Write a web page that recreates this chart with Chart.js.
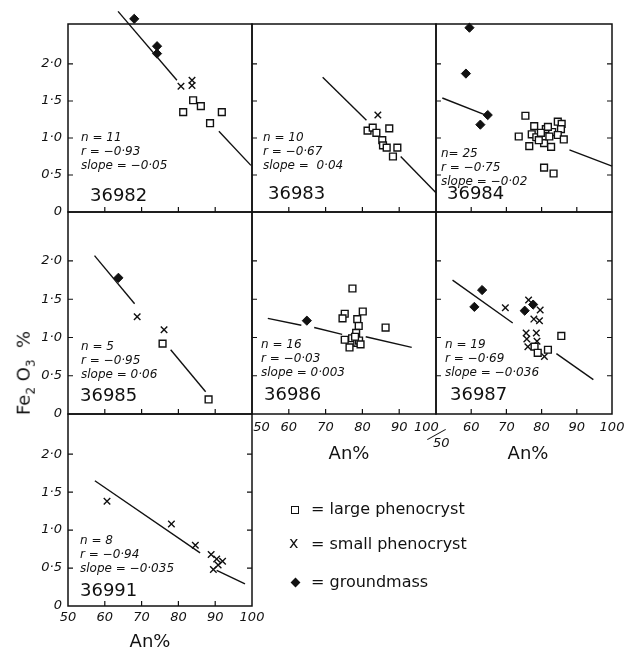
<!DOCTYPE html>
<html>
<head>
<meta charset="utf-8">
<script src="https://cdn.jsdelivr.net/npm/chart.js@4.4.0/dist/chart.umd.min.js"></script>
<style>
  body { margin: 0; background: #fff; }
  #wrap { position: relative; width: 624px; height: 648px; overflow: hidden; color: #111; }
  #wrap canvas { position: absolute; left: 0; top: 0; }
  .stat { position: absolute; font: italic 12px 'DejaVu Sans'; line-height: 14px; white-space: pre; }
  .sid { position: absolute; font: 18px 'DejaVu Sans'; line-height: 22px; }
  .ax { position: absolute; font: 18px 'DejaVu Sans'; white-space: pre; transform: translate(-50%, -50%); }
  .leg { position: absolute; font: 16px 'DejaVu Sans'; line-height: 20px; white-space: pre; }
  .sym { position: absolute; }
</style>
</head>
<body>
<div id="wrap"></div>
<script>
// Ejes comunes
const xTicks = [50, 60, 70, 80, 90, 100];
const yTicks = [0, 0.5, 1.0, 1.5, 2.0];
const rowMax = [2.54, 2.64, 2.53];

// 36982
const p82Large = [[81.3, 1.35], [84.0, 1.51], [86.1, 1.43], [88.6, 1.20], [91.8, 1.35]];
const p82Small = [[80.7, 1.70], [83.7, 1.78], [83.7, 1.71]];
const p82Ground = [[68.0, 2.61], [74.2, 2.24], [74.2, 2.14]];
const p82Fit = [[63.6, 2.71, 79.6, 1.78], [91.0, 1.09, 99.7, 0.63]];

// 36983
const p83Large = [[81.4, 1.10], [82.8, 1.14], [83.8, 1.07], [87.3, 1.13], [85.4, 0.97],
                  [85.6, 0.90], [86.6, 0.87], [89.5, 0.87], [88.3, 0.75]];
const p83Small = [[84.2, 1.31]];
const p83Ground = [];
const p83Fit = [[69.2, 1.82, 81.1, 1.24], [90.4, 0.75, 100, 0.26]];

// 36984
const p84Large = [[75.4, 1.30], [73.5, 1.02], [77.9, 1.16], [77.2, 1.05], [78.5, 1.01], [76.5, 0.89],
                  [81.2, 1.12], [80.7, 0.93], [82.7, 0.88], [83.0, 1.08], [82.2, 1.02], [84.6, 1.22],
                  [85.7, 1.19], [85.5, 1.12], [84.6, 1.04], [86.3, 0.98], [80.7, 0.60], [83.4, 0.52],
                  [79.8, 1.07], [81.8, 1.15], [79.2, 0.97]];
const p84Small = [];
const p84Ground = [[59.5, 2.49], [58.5, 1.87], [64.7, 1.31], [62.6, 1.18]];
const p84Fit = [[51.8, 1.54, 64.7, 1.30], [87.9, 0.84, 100, 0.62]];

// 36985
const p85Large = [[75.7, 0.92], [88.2, 0.19]];
const p85Small = [[68.8, 1.27], [76.1, 1.10]];
const p85Ground = [[63.7, 1.78]];
const p85Fit = [[57.2, 2.07, 68.1, 1.44], [77.9, 0.84, 87.4, 0.29]];

// 36986
const p86Large = [[77.3, 1.64], [75.2, 1.31], [74.6, 1.25], [80.1, 1.34], [78.6, 1.24], [79.0, 1.15],
                  [78.3, 1.06], [86.3, 1.13], [75.2, 0.97], [76.5, 0.87], [77.2, 0.99], [78.6, 0.93],
                  [79.1, 0.96], [78.0, 1.01], [79.5, 0.91]];
const p86Small = [];
const p86Ground = [[64.9, 1.22]];
const p86Fit = [[54.3, 1.25, 63.4, 1.16], [66.9, 1.13, 74.5, 1.04], [80.9, 1.01, 93.4, 0.87]];

// 36987
const p87Large = [[78.0, 0.88], [78.9, 0.80], [81.8, 0.84], [85.6, 1.02]];
const p87Small = [[69.7, 1.39], [76.3, 1.49], [79.6, 1.36], [77.8, 1.24], [79.4, 1.22], [75.6, 1.06],
                  [78.5, 1.06], [75.8, 0.98], [78.7, 0.95], [76.1, 0.88], [80.8, 0.75]];
const p87Ground = [[63.1, 1.62], [60.9, 1.40], [75.2, 1.35], [77.6, 1.43]];
const p87Fit = [[54.7, 1.75, 71.8, 1.19], [84.2, 0.79, 94.7, 0.45]];

// 36991
const p91Large = [];
const p91Small = [[60.6, 1.38], [78.1, 1.08], [84.6, 0.80], [88.9, 0.68], [90.4, 0.62],
                  [92.0, 0.59], [90.8, 0.54], [89.5, 0.48]];
const p91Ground = [];
const p91Fit = [[57.3, 1.65, 85.9, 0.70], [90.4, 0.47, 98.1, 0.29]];

// Textos de cada muestra
const statsText = {
  '36982': ['n = 11', 'r = \u22120\u00b793', 'slope = \u22120\u00b705'],
  '36983': ['n = 10', 'r = \u22120\u00b767', 'slope =  0\u00b704'],
  '36984': ['n= 25', 'r = \u22120\u00b775', 'slope = \u22120\u00b702'],
  '36985': ['n = 5', 'r = \u22120\u00b795', 'slope = 0\u00b706'],
  '36986': ['n = 16', 'r = \u22120\u00b703', 'slope = 0\u00b7003'],
  '36987': ['n = 19', 'r = \u22120\u00b769', 'slope = \u22120\u00b7036'],
  '36991': ['n = 8', 'r = \u22120\u00b794', 'slope = \u22120\u00b7035']
};

const W = 624, H = 648;
const colEdges = [68, 252, 436, 612];
const rowEdges = [24, 212, 414, 606];
const yAxisW = 40, xAxisH = 30;
const ink = '#111';
const tickFont = { family: 'DejaVu Sans', style: 'italic', size: 13 };

const panels = [
  { id: '36982', col: 0, row: 0, large: p82Large, small: p82Small, ground: p82Ground, fit: p82Fit,
    yLabels: true, xLabels: false, statPos: [81, 130], idPos: [90, 184] },
  { id: '36983', col: 1, row: 0, large: p83Large, small: p83Small, ground: p83Ground, fit: p83Fit,
    yLabels: false, xLabels: false, statPos: [263, 130], idPos: [268, 182] },
  { id: '36984', col: 2, row: 0, large: p84Large, small: p84Small, ground: p84Ground, fit: p84Fit,
    yLabels: false, xLabels: false, rightTicks: true, statPos: [441, 146], idPos: [447, 182] },
  { id: '36985', col: 0, row: 1, large: p85Large, small: p85Small, ground: p85Ground, fit: p85Fit,
    yLabels: true, xLabels: false, statPos: [81, 339], idPos: [80, 384] },
  { id: '36986', col: 1, row: 1, large: p86Large, small: p86Small, ground: p86Ground, fit: p86Fit,
    yLabels: false, xLabels: true, shiftEnds: true, statPos: [261, 337], idPos: [264, 383] },
  { id: '36987', col: 2, row: 1, large: p87Large, small: p87Small, ground: p87Ground, fit: p87Fit,
    yLabels: false, xLabels: true, skipFirst: true, rightTicks: true, statPos: [445, 337], idPos: [450, 383] },
  { id: '36991', col: 0, row: 2, large: p91Large, small: p91Small, ground: p91Ground, fit: p91Fit,
    yLabels: true, xLabels: true, rightTicks: true, statPos: [80, 533], idPos: [80, 579] }
];

// Marco y marcas hacia dentro
const framePlugin = {
  id: 'frame',
  beforeDatasetsDraw(chart, args, opts) {
    const { ctx, chartArea: a, scales: { x, y } } = chart;
    ctx.save();
    ctx.strokeStyle = ink;
    ctx.lineWidth = 1.5;
    ctx.strokeRect(a.left, a.top, a.right - a.left, a.bottom - a.top);
    ctx.lineWidth = 1.2;
    ctx.beginPath();
    xTicks.slice(1, -1).forEach(v => {
      const px = x.getPixelForValue(v);
      ctx.moveTo(px, a.bottom);
      ctx.lineTo(px, a.bottom - 5);
    });
    yTicks.slice(1).forEach(v => {
      const py = y.getPixelForValue(v);
      ctx.moveTo(a.left, py);
      ctx.lineTo(a.left + 5, py);
      if (opts.rightTicks) {
        ctx.moveTo(a.right, py);
        ctx.lineTo(a.right - 5, py);
      }
    });
    ctx.stroke();
    ctx.restore();
  }
};

const toPts = arr => arr.map(([x, y]) => ({ x, y }));

function xLabel(p, v) {
  if (p.skipFirst && v === 50) return '';
  if (p.shiftEnds && v === 50) return '\u2007\u2007\u2009' + v;
  if (p.shiftEnds && v === 100) return v + '\u2007\u2007\u2009';
  return String(v);
}

function makePanel(p) {
  const wrap = document.getElementById('wrap');
  const canvas = document.createElement('canvas');
  canvas.width = W;
  canvas.height = H;
  wrap.appendChild(canvas);

  const left = colEdges[p.col], right = colEdges[p.col + 1];
  const top = rowEdges[p.row], bottom = rowEdges[p.row + 1];

  const datasets = [
    { data: toPts(p.ground), pointStyle: 'rectRot', pointRadius: 4.6, backgroundColor: ink, borderColor: ink, borderWidth: 1, clip: false },
    { data: toPts(p.large), pointStyle: 'rect', pointRadius: 4.8, backgroundColor: '#fff', borderColor: ink, borderWidth: 1.4, clip: false },
    { data: toPts(p.small), pointStyle: 'crossRot', pointRadius: 4.6, borderColor: ink, borderWidth: 1.4, clip: false }
  ];
  p.fit.forEach(seg => {
    datasets.push({
      data: [{ x: seg[0], y: seg[1] }, { x: seg[2], y: seg[3] }],
      showLine: true, pointRadius: 0, borderColor: ink, borderWidth: 1.4, clip: false
    });
  });

  new Chart(canvas, {
    type: 'scatter',
    data: { datasets },
    options: {
      responsive: false,
      animation: false,
      devicePixelRatio: 1,
      layout: { padding: { left: left - yAxisW, top: top, right: W - right, bottom: H - bottom - xAxisH } },
      plugins: {
        legend: { display: false },
        tooltip: { enabled: false },
        frame: { rightTicks: !!p.rightTicks }
      },
      scales: {
        x: {
          type: 'linear', min: 50, max: 100,
          afterFit: s => { s.height = xAxisH; s.paddingLeft = 0; s.paddingRight = 0; },
          afterBuildTicks: s => { s.ticks = xTicks.map(v => ({ value: v })); },
          grid: { display: false, drawTicks: false },
          border: { display: false },
          ticks: {
            display: p.xLabels, padding: p.row === 2 ? 4 : 6, color: ink, font: tickFont,
            maxRotation: 0, autoSkip: false,
            callback: v => xLabel(p, v)
          }
        },
        y: {
          type: 'linear', min: 0, max: rowMax[p.row],
          afterFit: s => { s.width = yAxisW; s.paddingTop = 0; s.paddingBottom = 0; },
          afterBuildTicks: s => { s.ticks = yTicks.map(v => ({ value: v })); },
          grid: { display: false, drawTicks: false },
          border: { display: false },
          ticks: {
            display: p.yLabels, padding: 6, color: ink, font: tickFont,
            callback: v => v === 0 ? '0' : v.toFixed(1).replace('.', '\u00b7')
          }
        }
      }
    },
    plugins: [framePlugin]
  });

  // Textos del panel
  const st = document.createElement('div');
  st.className = 'stat';
  st.style.left = p.statPos[0] + 'px';
  st.style.top = p.statPos[1] + 'px';
  st.textContent = statsText[p.id].join('\n');
  wrap.appendChild(st);

  const sid = document.createElement('div');
  sid.className = 'sid';
  sid.style.left = p.idPos[0] + 'px';
  sid.style.top = p.idPos[1] + 'px';
  sid.textContent = p.id;
  wrap.appendChild(sid);
}

panels.forEach(makePanel);

// Títulos de ejes, leyenda y marca 100/50
const wrap = document.getElementById('wrap');
wrap.insertAdjacentHTML('beforeend', `
  <div class="ax" style="left:150px;top:640px;">An%</div>
  <div class="ax" style="left:349px;top:452px;">An%</div>
  <div class="ax" style="left:528px;top:452px;">An%</div>
  <div class="ax" style="left:25px;top:373px;transform:translate(-50%,-50%) rotate(-90deg);">Fe<sub style="font-size:12px">2</sub> O<sub style="font-size:12px">3</sub>  %</div>
  <div style="position:absolute;left:433px;top:435px;font:italic 13px 'DejaVu Sans';">50</div>
  <div style="position:absolute;left:426px;top:434px;width:21px;border-top:1.3px solid #111;transform:rotate(-29deg);"></div>

  <div class="sym" style="left:291px;top:506px;width:6px;height:6px;border:1.4px solid #111;"></div>
  <div class="leg" style="left:311px;top:499px;">= large phenocryst</div>
  <div class="leg" style="left:289px;top:533px;">x</div>
  <div class="leg" style="left:311px;top:534px;">= small phenocryst</div>
  <div class="sym" style="left:292px;top:579px;width:7px;height:7px;background:#111;transform:rotate(45deg);"></div>
  <div class="leg" style="left:311px;top:572px;">= groundmass</div>
`);
</script>
</body>
</html>
